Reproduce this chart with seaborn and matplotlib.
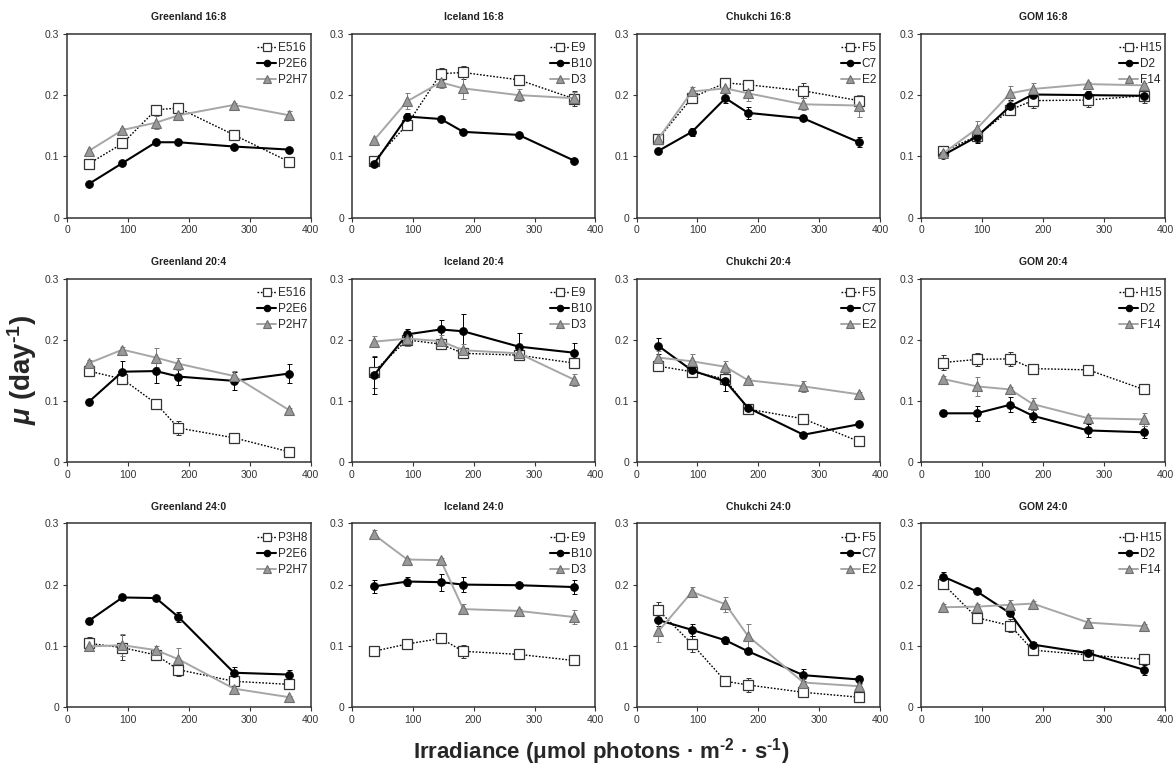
import numpy as np
import pandas as pd
import seaborn as sns
import matplotlib.pyplot as plt

# irradiance levels (umol photons m-2 s-1)
irradiance = [36, 91, 146, 183, 274, 365]

panel_titles = ["Greenland 16:8", "Iceland 16:8", "Chukchi 16:8", "GOM 16:8",
                "Greenland 20:4", "Iceland 20:4", "Chukchi 20:4", "GOM 20:4",
                "Greenland 24:0", "Iceland 24:0", "Chukchi 24:0", "GOM 24:0"]

panel_strains = [["E516", "P2E6", "P2H7"], ["E9", "B10", "D3"], ["F5", "C7", "E2"], ["H15", "D2", "F14"],
                 ["E516", "P2E6", "P2H7"], ["E9", "B10", "D3"], ["F5", "C7", "E2"], ["H15", "D2", "F14"],
                 ["P3H8", "P2E6", "P2H7"], ["E9", "B10", "D3"], ["F5", "C7", "E2"], ["H15", "D2", "F14"]]

# growth rates, one row per strain (open square, filled circle, grey triangle)
greenland_16 = [[0.088, 0.121, 0.176, 0.179, 0.135, 0.091],
                [0.055, 0.089, 0.123, 0.123, 0.116, 0.111],
                [0.109, 0.143, 0.155, 0.167, 0.184, 0.167]]
iceland_16 = [[0.092, 0.152, 0.235, 0.237, 0.225, 0.194],
              [0.087, 0.165, 0.161, 0.140, 0.135, 0.093],
              [0.126, 0.190, 0.221, 0.211, 0.200, 0.195]]
chukchi_16 = [[0.129, 0.196, 0.220, 0.217, 0.207, 0.191],
              [0.109, 0.140, 0.195, 0.171, 0.162, 0.123],
              [0.129, 0.206, 0.211, 0.203, 0.185, 0.183]]
gom_16 = [[0.108, 0.133, 0.176, 0.191, 0.192, 0.199],
          [0.102, 0.132, 0.182, 0.201, 0.200, 0.199],
          [0.105, 0.145, 0.203, 0.210, 0.218, 0.216]]
greenland_20 = [[0.149, 0.136, 0.096, 0.056, 0.040, 0.017],
                [0.099, 0.148, 0.149, 0.140, 0.133, 0.145],
                [0.162, 0.184, 0.171, 0.161, 0.141, 0.085]]
iceland_20 = [[0.148, 0.200, 0.193, 0.178, 0.175, 0.162],
              [0.142, 0.209, 0.217, 0.214, 0.189, 0.179],
              [0.197, 0.202, 0.198, 0.183, 0.178, 0.135]]
chukchi_20 = [[0.157, 0.148, 0.136, 0.087, 0.071, 0.034],
              [0.190, 0.150, 0.132, 0.089, 0.045, 0.062],
              [0.171, 0.165, 0.156, 0.134, 0.124, 0.111]]
gom_20 = [[0.163, 0.168, 0.169, 0.153, 0.151, 0.119],
          [0.080, 0.080, 0.094, 0.076, 0.052, 0.049],
          [0.136, 0.124, 0.119, 0.095, 0.072, 0.070]]
greenland_24 = [[0.104, 0.097, 0.085, 0.061, 0.042, 0.037],
                [0.141, 0.179, 0.178, 0.147, 0.056, 0.053],
                [0.099, 0.101, 0.093, 0.078, 0.030, 0.016]]
iceland_24 = [[0.091, 0.103, 0.112, 0.091, 0.086, 0.076],
              [0.197, 0.205, 0.204, 0.200, 0.199, 0.196],
              [0.282, 0.241, 0.240, 0.160, 0.157, 0.147]]
chukchi_24 = [[0.158, 0.103, 0.042, 0.036, 0.024, 0.016],
              [0.142, 0.126, 0.109, 0.091, 0.052, 0.045],
              [0.124, 0.188, 0.168, 0.116, 0.040, 0.034]]
gom_24 = [[0.201, 0.146, 0.133, 0.093, 0.085, 0.078],
          [0.213, 0.189, 0.153, 0.102, 0.088, 0.061],
          [0.163, 0.164, 0.167, 0.169, 0.138, 0.132]]

# standard errors
greenland_16_err = [[0.004, 0.004, 0.004, 0.006, 0.004, 0.004],
                    [0.002, 0.002, 0.003, 0.003, 0.002, 0.002],
                    [0.003, 0.003, 0.011, 0.004, 0.003, 0.007]]
iceland_16_err = [[0.003, 0.005, 0.010, 0.010, 0.008, 0.012],
                  [0.003, 0.005, 0.004, 0.003, 0.003, 0.003],
                  [0.003, 0.013, 0.010, 0.018, 0.010, 0.010]]
chukchi_16_err = [[0.003, 0.008, 0.008, 0.007, 0.012, 0.009],
                  [0.002, 0.006, 0.008, 0.010, 0.005, 0.008],
                  [0.003, 0.007, 0.008, 0.012, 0.010, 0.018]]
gom_16_err = [[0.004, 0.010, 0.005, 0.012, 0.012, 0.012],
              [0.003, 0.010, 0.010, 0.008, 0.006, 0.006],
              [0.003, 0.012, 0.012, 0.010, 0.004, 0.004]]
greenland_20_err = [[0.004, 0.004, 0.006, 0.012, 0.003, 0.003],
                    [0.002, 0.018, 0.020, 0.014, 0.015, 0.016],
                    [0.005, 0.005, 0.016, 0.010, 0.008, 0.003]]
iceland_20_err = [[0.026, 0.010, 0.008, 0.008, 0.005, 0.005],
                  [0.030, 0.008, 0.015, 0.028, 0.022, 0.016],
                  [0.009, 0.012, 0.010, 0.010, 0.006, 0.010]]
chukchi_20_err = [[0.006, 0.006, 0.010, 0.005, 0.004, 0.003],
                  [0.013, 0.005, 0.015, 0.005, 0.002, 0.003],
                  [0.010, 0.012, 0.010, 0.004, 0.009, 0.003]]
gom_20_err = [[0.012, 0.010, 0.011, 0.004, 0.004, 0.004],
              [0.005, 0.012, 0.012, 0.010, 0.010, 0.010],
              [0.005, 0.015, 0.004, 0.010, 0.006, 0.010]]
greenland_24_err = [[0.010, 0.020, 0.008, 0.010, 0.006, 0.006],
                    [0.005, 0.004, 0.004, 0.008, 0.010, 0.008],
                    [0.004, 0.018, 0.007, 0.018, 0.004, 0.002]]
iceland_24_err = [[0.004, 0.004, 0.004, 0.011, 0.003, 0.003],
                  [0.011, 0.008, 0.014, 0.012, 0.003, 0.012],
                  [0.008, 0.003, 0.003, 0.008, 0.003, 0.011]]
chukchi_24_err = [[0.014, 0.013, 0.004, 0.011, 0.003, 0.002],
                  [0.010, 0.010, 0.006, 0.005, 0.010, 0.006],
                  [0.017, 0.008, 0.012, 0.020, 0.006, 0.003]]
gom_24_err = [[0.008, 0.005, 0.010, 0.006, 0.004, 0.008],
              [0.008, 0.004, 0.004, 0.004, 0.004, 0.008],
              [0.005, 0.005, 0.008, 0.004, 0.008, 0.004]]

panel_values = [greenland_16, iceland_16, chukchi_16, gom_16,
                greenland_20, iceland_20, chukchi_20, gom_20,
                greenland_24, iceland_24, chukchi_24, gom_24]
panel_errors = [greenland_16_err, iceland_16_err, chukchi_16_err, gom_16_err,
                greenland_20_err, iceland_20_err, chukchi_20_err, gom_20_err,
                greenland_24_err, iceland_24_err, chukchi_24_err, gom_24_err]

sns.set_theme(style="ticks")
plt.rcParams['font.family'] = ['Liberation Sans', 'DejaVu Sans']
plt.rcParams['mathtext.fontset'] = 'custom'
plt.rcParams['mathtext.rm'] = 'Liberation Sans:bold'
plt.rcParams['mathtext.it'] = 'Liberation Sans:italic:bold'
plt.rcParams['mathtext.bf'] = 'Liberation Sans:bold'

# series styles: open square dotted, black circle, grey triangle
styles = [
    dict(color="black", linestyle=(0, (1.2, 1.2)), linewidth=1.0, marker="s",
         markerfacecolor="white", markeredgecolor="#333333", markersize=6.5, markeredgewidth=0.9),
    dict(color="black", linestyle="-", linewidth=1.5, marker="o",
         markerfacecolor="black", markeredgecolor="black", markersize=5.5),
    dict(color="#a6a6a6", linestyle="-", linewidth=1.4, marker="^",
         markerfacecolor="#999999", markeredgecolor="#6e6e6e", markersize=6.5, markeredgewidth=0.8),
]
err_colors = ["#333333", "black", "#7a7a7a"]

fig, axes = plt.subplots(3, 4, figsize=(11.76, 7.71), dpi=100)
fig.subplots_adjust(left=0.057, right=0.9906, top=0.956, bottom=0.083, wspace=0.169, hspace=0.333)

for ax, title, strains, vals, errs in zip(axes.flat, panel_titles, panel_strains, panel_values, panel_errors):
    for i, name in enumerate(strains):
        df = pd.DataFrame({"irradiance": irradiance, "mu": vals[i]})
        ax.errorbar(df["irradiance"], df["mu"], yerr=errs[i], fmt="none",
                    ecolor=err_colors[i], elinewidth=0.7, capsize=1.8, capthick=0.7, zorder=2)
        sns.lineplot(data=df, x="irradiance", y="mu", ax=ax, label=name, zorder=3, **styles[i])

    ax.set_xlim(0, 400)
    ax.set_ylim(0, 0.3)
    ax.set_xticks(np.arange(0, 401, 100))
    ax.set_yticks([0, 0.1, 0.2, 0.3])
    ax.set_yticklabels(["0", "0.1", "0.2", "0.3"])
    ax.set_xlabel("")
    ax.set_ylabel("")
    ax.set_title(title, fontsize=7.5, fontweight="bold", color="#222222", pad=10)
    ax.tick_params(labelsize=7.5, colors="#333333", length=3, width=0.8, pad=2.5)
    for sp in ax.spines.values():
        sp.set_color("#333333")
        sp.set_linewidth(1.1)
    ax.legend(loc="upper right", frameon=False, fontsize=8.5, handlelength=1.6,
              handletextpad=0.15, labelspacing=0.35, borderaxespad=0.3,
              markerscale=0.85, bbox_to_anchor=(1.02, 1.0))

fig.text(0.019, 0.52, r"$\mu$ (day$^{\text{-1}}$)", rotation=90, fontsize=20,
         fontweight="bold", ha="center", va="center")
fig.text(0.511, 0.025, r"Irradiance (μmol photons · m$^{\text{-2}}$ · s$^{\text{-1}}$)", fontsize=16,
         fontweight="bold", ha="center", va="center")

fig.savefig("out.png", dpi=100)
